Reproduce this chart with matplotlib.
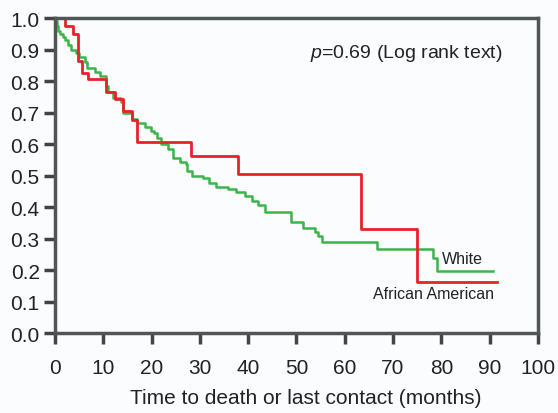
import matplotlib
matplotlib.use('Agg')
from matplotlib import pyplot as plt

plt.rcParams['font.family'] = ['Liberation Sans', 'DejaVu Sans']
plt.rcParams['mathtext.fontset'] = 'custom'
plt.rcParams['mathtext.it'] = 'Liberation Sans:italic'

# Kaplan-Meier steps: (time of drop, survival after drop)
aa_t = [0, 2.0, 3.7, 4.8, 5.6, 6.8, 10.6, 12.4, 14.1, 15.9, 17.0, 28.2, 37.9, 63.4, 75.0]
aa_s = [1.0, 0.975, 0.95, 0.865, 0.825, 0.806, 0.765, 0.743, 0.705, 0.676, 0.606, 0.562, 0.505, 0.33, 0.162]
aa_end = 91.5

wh_t = [0, 0.2, 0.4, 0.6, 1.0, 1.7, 2.1, 2.7, 3.3, 4.3, 5.0, 6.2, 6.6, 8.3, 9.3, 10.6, 11.0,
        12.0, 13.7, 14.1, 15.9, 17.0, 18.6, 19.9, 20.5, 21.1, 21.9, 23.4, 24.4, 25.9, 27.1,
        27.3, 28.4, 30.6, 31.9, 33.3, 35.8, 37.5, 39.3, 40.8, 42.0, 43.5, 48.9, 51.3, 53.8,
        54.5, 55.3, 66.7, 78.3, 79.1]
wh_s = [1.0, 0.99, 0.975, 0.96, 0.95, 0.94, 0.93, 0.915, 0.90, 0.89, 0.875, 0.86, 0.84, 0.83,
        0.815, 0.785, 0.765, 0.745, 0.733, 0.70, 0.68, 0.667, 0.654, 0.641, 0.635, 0.619, 0.60,
        0.584, 0.556, 0.543, 0.537, 0.514, 0.498, 0.492, 0.477, 0.464, 0.457, 0.448, 0.435,
        0.418, 0.405, 0.384, 0.352, 0.333, 0.32, 0.308, 0.289, 0.267, 0.238, 0.197]
wh_end = 90.7

xticks = list(range(0, 101, 10))
yticks = [i / 10 for i in range(11)]

fig = plt.figure(figsize=(5.58, 4.14), dpi=100)
fig.patch.set_facecolor('#fbfcfe')
ax = fig.add_axes([0.0986, 0.1932, 0.8654, 0.7608])
ax.set_facecolor('#fbfcfe')

ax.step(wh_t + [wh_end], wh_s + [wh_s[-1]], where='post', color='#3bb54a', lw=1.8)
ax.step(aa_t + [aa_end], aa_s + [aa_s[-1]], where='post', color='#e8212b', lw=2.0)

ax.set_xlim(0, 100)
ax.set_ylim(0, 1.0)
ax.set_xticks(xticks)
ax.set_yticks(yticks)
ax.set_yticklabels(['%.1f' % v for v in yticks])
ax.tick_params(direction='out', length=8, width=2.5, color='#444444',
               labelsize=15, labelcolor='#222222', pad=3)
ax.tick_params(axis='x', pad=10)
for sp in ax.spines.values():
    sp.set_linewidth(2.5)
    sp.set_color('#505558')

ax.set_xlabel('Time to death or last contact (months)', fontsize=15, color='#222222')
ax.xaxis.set_label_coords(0.52, -0.175)

ax.text(92.75, 0.89, '$p$=0.69 (Log rank text)', fontsize=14, color='#222222',
        ha='right', va='center')
ax.text(88.6, 0.235, 'White', fontsize=11.5, color='#222222', ha='right', va='center')
ax.text(90.9, 0.127, 'African American', fontsize=11.5, color='#222222', ha='right', va='center')

plt.savefig('out.png', dpi=100, facecolor=fig.get_facecolor())
